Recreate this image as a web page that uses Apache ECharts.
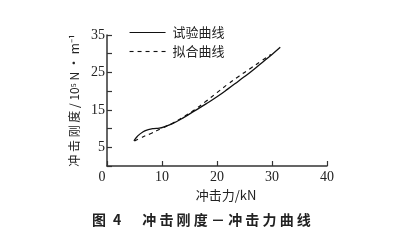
<!DOCTYPE html>
<html><head><meta charset="utf-8">
<script src="https://cdn.jsdelivr.net/npm/echarts@6/dist/echarts.min.js"></script>
<style>html,body{margin:0;padding:0;background:#fff}#c{width:404px;height:252px}</style>
</head><body><div id="c"></div>
<script>
var xTest = [4.9, 5.5, 6.5, 7.5, 8.5, 9.5, 10.5, 12, 14, 16, 18, 20, 22, 24, 26, 28, 30, 31.5];
var yTest = [6.7, 7.9, 9.1, 9.7, 10.0, 10.1, 10.5, 11.4, 13.0, 14.8, 16.6, 18.5, 20.6, 22.8, 25.0, 27.4, 29.8, 31.7];
var xFit = [5, 6, 7, 8, 9, 10, 12, 14, 16, 18, 20, 22, 24, 26, 28, 29.8];
var yFit = [6.7, 7.4, 8.1, 8.7, 9.4, 10.1, 11.5, 13.2, 15.1, 17.3, 19.6, 21.9, 24.0, 26.0, 28.0, 29.8];
var seriesNames = ['试验曲线', '拟合曲线'];
var yLabelValues = [5, 15, 25, 35];

function pairs(xs, ys) { return xs.map(function (x, i) { return [x, ys[i]]; }); }
var serif = 'Liberation Serif';
var cjk = 'Noto Sans CJK SC';
var chart = echarts.init(document.getElementById('c'), null, {renderer: 'canvas'});
chart.setOption({
  animation: false,
  backgroundColor: '#fff',
  title: {
    text: '图\u20024\u2003\u2002冲 击 刚 度 － 冲 击 力 曲 线',
    left: 87, top: 208,
    textStyle: {fontFamily: cjk, fontSize: 14, fontWeight: 'bold', color: '#222'}
  },
  legend: {
    orient: 'vertical', left: 124, top: 21, itemWidth: 36, itemHeight: 10, itemGap: 6,
    itemStyle: {opacity: 0},
    lineStyle: {width: 1.1},
    textStyle: {fontFamily: cjk, fontSize: 13, color: '#222', padding: [0, 0, 0, 2]},
    data: seriesNames
  },
  grid: {left: 107, right: 77, top: 35, bottom: 86},
  xAxis: {
    type: 'value', min: 0, max: 40, interval: 10,
    name: '冲击力/kN', nameLocation: 'middle', nameGap: 22,
    nameTextStyle: {fontFamily: cjk, fontSize: 13, color: '#222', padding: [0, 0, 0, 18]},
    axisLine: {lineStyle: {color: '#333', width: 1.5}},
    axisTick: {inside: true, length: 5, lineStyle: {color: '#333', width: 1.2}},
    splitLine: {show: false},
    axisLabel: {
      fontFamily: serif, fontSize: 14, color: '#222', margin: 4,
      formatter: function (v) { return v === 0 ? '{o|0}' : String(v); },
      rich: {o: {fontFamily: serif, fontSize: 14, color: '#222', padding: [0, 10, 0, 0]}}
    }
  },
  yAxis: {
    type: 'value', min: 0, max: 35, interval: 5,
    name: '冲 击 刚 度 / 10⁵ N · m⁻¹', nameLocation: 'middle', nameGap: 21, nameRotate: 90,
    nameTextStyle: {fontFamily: cjk, fontSize: 12, color: '#222'},
    axisLine: {show: true, lineStyle: {color: '#333', width: 1.5}},
    axisTick: {show: true, inside: true, length: 5, lineStyle: {color: '#333', width: 1.2}},
    splitLine: {show: false},
    axisLabel: {
      fontFamily: serif, fontSize: 14, color: '#222', margin: 2,
      formatter: function (v) { return yLabelValues.indexOf(v) >= 0 ? String(v) : ''; }
    }
  },
  series: [
    {name: seriesNames[0], type: 'line', smooth: true, symbol: 'none',
     lineStyle: {color: '#111', width: 1.3}, itemStyle: {color: '#111'},
     data: pairs(xTest, yTest)},
    {name: seriesNames[1], type: 'line', smooth: true, symbol: 'none',
     lineStyle: {color: '#111', width: 1.2, type: [4, 4]}, itemStyle: {color: '#111'},
     data: pairs(xFit, yFit)}
  ]
});
</script></body></html>
